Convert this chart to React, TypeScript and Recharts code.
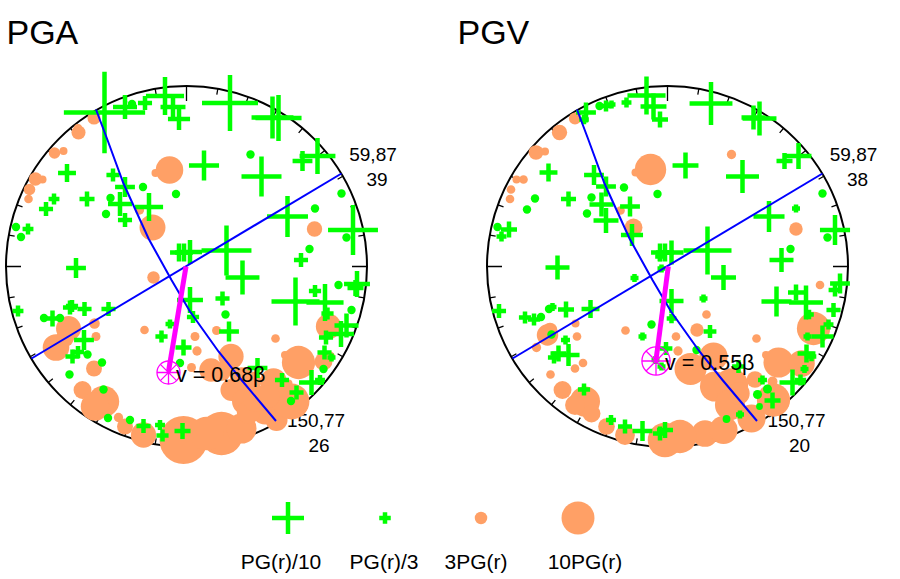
import React from "react";
import { ScatterChart, Scatter, XAxis, YAxis } from "recharts";

// stereonet coordinates: origin at the net centre, 1 unit = 1px, net radius 180.5
// rows are [x, y, m], m = size of the log10 residual

const pgaDeficit = [
  [-82, 154, 2.54], [-61.5, 159.5, 0.75], [-54.5, 162.5, 0.2], [-41.5, 163.5, 0.44], [-21.5, 170.5, 1.19],
  [-13.5, 159.5, 0.78], [-7.5, 147.5, 0.69], [-119.5, 93.5, 0.56], [-73.5, 91.5, 0.41], [-61.5, 79.5, 0.62],
  [-43.5, 79.5, 0.2], [-10.5, 72.5, 0.2], [-76, 68.5, 0.2], [-132.5, 67.5, 0.34], [-99.5, 67.5, 0.47],
  [-140.5, 57.5, 0.44], [-66.5, 62.5, 0.75], [-37.5, 59.5, 0.88], [-80.5, 52.5, 0.2], [-61.5, 46.5, 0.44],
  [-170.5, 39.5, 0.2], [-158.5, 37.5, 0.34], [-165.5, 29.5, 0.2], [-110.5, -1.5, 0.62], [43.5, 163.5, 1.75],
  [86, 149, 1.31], [92, 148.5, 1.44], [131, 110.5, 1.12], [116, 105.5, 0.62], [17.5, 101, 0.94],
  [64, 112, 0.2], [75, 90, 1.25], [101, 50, 1.28], [128.5, 58, 0.2], [155, 73, 0.2],
  [166.5, 36.5, 1.56], [160, 29, 0.2], [123, 17.5, 0.2], [114.5, 6.5, 0.44], [40, 16, 1.56],
  [56, -11, 1.06], [-7.5, 14, 0.56], [-2.5, 14, 0.56], [3.5, 14.5, 0.75], [-168.5, -44.5, 0.34],
  [-78, -42.5, 0.44], [-102, -42.5, 0.44], [-116.5, -41, 0.44], [-114.5, -39.5, 0.38], [-134, -52, 0.5],
  [-142.5, -51.5, 0.2], [-126.5, -51.5, 0.2], [-102.5, -73.5, 0.62], [-114, -90, 0.44], [-108.5, -85.5, 0.38],
  [-99, -88, 0.2], [-117, -108, 0.2], [-84.5, -96, 0.2], [-83, -123, 0.2], [-78.5, -151.5, 0.2],
  [-56.5, -153.5, 0.2], [-43, -159.5, 0.44], [-24, -169, 0.38], [-26.5, -158.5, 0.31], [-4, -164.5, 0.5],
  [-16.5, -57.5, 0.28], [-25, -70, 0.38], [-3, -81, 0.5], [-6.5, -96.5, 0.2], [3.5, -33.5, 0.81],
  [6.5, -50.5, 0.38], [128.5, -24.5, 0.38], [109, -35, 1.5], [138.5, -36, 1.16], [170.5, -17.5, 0.81],
  [169, -21.5, 0.5], [152, -18.5, 0.2], [36, -32, 0.44], [39, -48, 0.2], [42.5, -65, 0.62],
  [165, -43.5, 0.2], [141, -47, 0.38], [160, -59, 0.75], [154.5, -67.5, 0.81], [139.5, -71, 0.44],
  [138, -86, 0.44], [145, -91, 0.25], [137, -102.5, 0.2], [125, -116, 0.78], [133.5, -113.5, 0.31],
  [95.5, -113.5, 0.44], [110, -126, 0.44], [104.5, -134.5, 0.2], [71, -101.5, 0.62],
];

const pgaExcess = [
  [-92.5, 148.5, 0.41], [-108, 134, 0.44], [-108.5, 138.5, 0.25], [-132, 113.5, 0.36], [-123, 115.5, 0.25],
  [-151, 87.5, 0.42], [-144, 87, 0.25], [-157, 77, 0.36], [-158, 67.5, 0.27], [-17, 96.5, 0.86],
  [-31, 93.5, 0.25], [-34, 39, 0.81], [-47, 56.5, 0.29], [128, 37.5, 0.48], [-33, -11, 0.39],
  [-42, -63.5, 0.27], [-92, -57, 0.33], [-90.5, -70, 0.28], [-118, -62, 0.78], [-130.5, -81, 0.83],
  [-121.5, -71.5, 0.56], [-92.5, -102, 0.5], [-104, -123.5, 0.56], [-83, -135, 0.98], [-91.5, -140, 0.89],
  [-68, -151, 0.29], [-61.5, -160, 0.5], [-43, -168.5, 0.79], [-3, -173.5, 1.5], [35, -167, 1.36],
  [55, -162, 0.94], [8.5, -70, 0.28], [30, -64, 0.28], [10.5, -84.5, 0.29], [5, -101, 0.28],
  [44.5, -90, 0.79], [24.5, -103.5, 0.73], [89, -72, 0.27], [112, -96, 1.04], [98.5, -88.5, 0.25],
  [87, -115, 0.83], [45, -123.5, 0.69], [65, -115, 0.62], [58.5, -135, 0.81], [78.5, -145, 0.81],
  [90, -153.5, 0.69], [105, -135, 1.12], [142, -60, 0.79], [137, -95, 0.56], [143.5, -90, 0.31],
  [102, -117, 0.25], [62, -145.5, 0.73], [35, -105, 0.6], [55, -112, 0.7], [20, -167, 1.05],
  [70, -132, 0.85], [82, -130, 0.7],
];

const pgvDeficit = [
  [-81.5, 154, 0.62], [-83.5, 147, 0.3], [-61.5, 160.5, 0.34], [-68, 160.5, 0.2], [-56, 162, 0.25],
  [-41, 164, 0.31], [-21, 171, 1.19], [-14, 160, 0.81], [-7.5, 147, 0.5], [-119, 94, 0.56],
  [-73.5, 91.5, 0.62], [-61.5, 80, 0.62], [-43.5, 79, 0.2], [-10, 72.5, 0.2], [-76, 69, 0.2],
  [-132.5, 68, 0.2], [-99, 67.5, 0.47], [-140.5, 57, 0.2], [-66, 62, 0.75], [-37.5, 60, 0.62],
  [-80.5, 53, 0.2], [-61.5, 46, 0.78], [-170, 39.5, 0.2], [-158.5, 37, 0.5], [-166, 30, 0.31],
  [-35.5, 31.5, 0.69], [-110, -1, 0.75], [43.5, 163, 1.34], [86, 149, 0.75], [92, 148, 1.06],
  [131, 110.5, 0.81], [117, 105.5, 0.5], [18, 101, 0.81], [75, 90, 1.03], [101.5, 50, 0.97],
  [128.5, 58, 0.25], [155, 73, 0.2], [167.5, 36.5, 0.94], [160, 29, 0.2], [123, 17.5, 0.2],
  [114, 6.5, 0.75], [40, 16, 1.5], [-7.5, 14, 0.56], [-2.5, 14, 0.56], [4, 14, 0.75],
  [-168.5, -44.5, 0.44], [-101.5, -43, 0.5], [-77, -42.5, 0.56], [-115, -40.5, 0.25], [-118.5, -42.5, 0.2],
  [-142.5, -51, 0.38], [-133.5, -53, 0.38], [-126.5, -50.5, 0.2], [-116, -68, 0.2], [-33, -11.5, 0.25],
  [-16, -58, 0.2], [-25, -70, 0.25], [-6, -2, 0.25], [-7.5, 10, 0.3], [4, -34.5, 0.75],
  [-102, -73.5, 0.28], [-99, -88.5, 0.69], [-109, -87, 0.5], [-113.5, -91, 0.38], [-83.5, -123, 0.38],
  [-56.5, -153.5, 0.31], [-42.5, -160, 0.44], [-25, -164.5, 0.62], [-7.5, -167, 0.44], [-2.5, -163.5, 0.5],
  [-1.5, -82, 0.4], [-6, -100, 0.25], [-12, -93.5, 0.25], [56, -11, 0.78], [109, -35, 0.94],
  [128.5, -26, 0.5], [138.5, -36, 1.06], [172.5, -17, 0.62], [167.5, -23.5, 0.4], [166, -43.5, 0.44],
  [36, -32, 0.25], [141.5, -48, 0.3], [42.5, -65, 0.4], [161, -58, 0.31], [155, -70, 0.69],
  [140, -70, 0.25], [139, -87, 0.56], [144, -90, 0.3], [137, -102.5, 0.25], [125, -116, 0.81],
  [133, -113.5, 0.35], [95, -113.5, 0.28], [105, -134, 0.5], [100, -122.5, 0.22], [90, -128, 0.22],
  [92, -140, 0.15], [72.5, -148, 0.25], [59, -152.5, 0.18], [71, -100, 0.4], [29, -83.5, 0.2],
  [4, -52, 0.3],
];

const pgvExcess = [
  [64, 112, 0.29], [128.5, 37.5, 0.42], [-92, -57, 0.25], [-90.5, -70, 0.27], [-42, -64, 0.27],
  [-117.5, -63.5, 0.46], [-120, -68.5, 0.67], [-131, -81, 0.29], [-84.5, -96.5, 0.27], [-92.5, -102, 0.27],
  [-117, -108, 0.27], [-105, -123.5, 0.56], [-82.5, -135, 0.94], [-92.5, -138.5, 0.62], [-76, -147, 0.56],
  [-61, -160, 0.52], [-42.5, -168.5, 0.62], [-2.5, -173.5, 1.08], [-92.5, 148, 0.38], [-108, 134, 0.48],
  [-131.5, 114, 0.46], [-122.5, 115, 0.25], [-151, 87, 0.25], [-144, 87, 0.27], [-156.5, 77, 0.27],
  [-157.5, 67.5, 0.27], [-17, 97, 0.98], [-32, 94, 0.25], [-34, 39, 0.56], [-47, 56, 0.27],
  [152.5, -18.5, 0.27], [39, -48, 0.27], [29.5, -63.5, 0.42], [8.5, -70, 0.27], [10.5, -84.5, 0.29],
  [23, -102.5, 1], [46, -90, 0.88], [89, -72, 0.27], [111, -96, 0.94], [98.5, -88.5, 0.25],
  [87.5, -113, 0.52], [105, -115, 0.31], [47.5, -120, 0.94], [64, -118.5, 1.04], [62.5, -138.5, 0.94],
  [71, -127, 0.7], [84, -152, 0.88], [106, -133.5, 1.04], [37.5, -167, 0.83], [56, -163.5, 0.88],
  [12.5, -170, 1.04], [146, -62, 1.04], [134, -97, 0.83], [142.5, -92, 0.31],
];

const strikeLine = [[-155, -92], [155, 93]];
const auxCurve = [
  [-90.5, 157], [-79, 126.5], [-63, 83], [-38, 28], [-15, -13.5], [3.5, -45], [32, -85], [55, -113.5], [89.5, -154.5],
];
const pgaSlip = [[-0.5, 0], [-18, -105]];
const pgvSlip = [[0.8, 0], [-11.5, -93.5]];
const pgaDirectivity = [[-18, -106, 0.72]];
const pgvDirectivity = [[-11.5, -94.5, 0.88]];

const pgaLabels = [
  ["PGA", -180, 234.5, "title"],
  ["59,87", 186.5, 112.5, "mid"],
  ["39", 190.5, 87.5, "mid"],
  ["150,77", 129.5, -153.5, "mid"],
  ["26", 132.5, -178.5, "mid"],
];
const pgvLabels = [
  ["PGV", -210, 234.5, "title"],
  ["59,87", 186, 112.5, "mid"],
  ["38", 190, 87.5, "mid"],
  ["150,77", 129, -153.5, "mid"],
  ["20", 132, -178.5, "mid"],
];
const pgaRatio = [["v = 0.68β", -10.5, -108.5, "ratio"]];
const pgvRatio = [["v = 0.55β", -2.5, -96.5, "ratio"]];

const legendLabels = ["PG(r)/10", "PG(r)/3", "3PG(r)", "10PG(r)"];
const legendLabelX = [281, 384, 476, 585];
const legendX = [288, 385, 481, 578];
const legendValues = [1, 0.36, 0.39, 1.03];

const UNIT = 16;
const NET_R = 180.5;
const GREEN = "#00ff00";
const ORANGE = "#ffa066";
const BLUE = "#0000ff";
const MAGENTA = "#ff00ff";
const FONT = "'Liberation Sans', Arial, sans-serif";

const toPoints = (rows: number[][]) => rows.map(([x, y, m]) => ({ x, y, m }));
const toLabels = (rows: any[]) =>
  rows.map(([text, x, y, kind]) => ({ text, x, y, kind }));

const Cross = ({ cx, cy, payload }: any) => {
  const arm = payload.m * UNIT;
  if (arm < 4) return <circle cx={cx} cy={cy} r={Math.max(arm + 1, 3)} fill={GREEN} />;
  return (
    <path
      d={`M${cx - arm} ${cy}H${cx + arm}M${cx} ${cy - arm}V${cy + arm}`}
      stroke={GREEN}
      strokeWidth={4.5}
      fill="none"
    />
  );
};

const Blob = ({ cx, cy, payload }: any) => (
  <circle cx={cx} cy={cy} r={payload.m * UNIT} fill={ORANGE} />
);

const Directivity = ({ cx, cy, payload }: any) => {
  const r = payload.m * UNIT;
  const spokes = [0, 45, 90, 135].map((deg) => {
    const a = (deg * Math.PI) / 180;
    return `M${cx - r * Math.cos(a)} ${cy - r * Math.sin(a)}L${cx + r * Math.cos(a)} ${cy + r * Math.sin(a)}`;
  });
  return (
    <g stroke={MAGENTA} strokeWidth={1.3} fill="none">
      <circle cx={cx} cy={cy} r={r} />
      <path d={spokes.join("")} />
    </g>
  );
};

const NetFrame = ({ cx, cy }: any) => {
  const ticks = [];
  for (let deg = 0; deg < 360; deg += 10) {
    const a = (deg * Math.PI) / 180;
    const len = deg % 90 === 0 ? 15 : 6;
    ticks.push(
      `M${cx + NET_R * Math.sin(a)} ${cy - NET_R * Math.cos(a)}L${cx + (NET_R - len) * Math.sin(a)} ${cy - (NET_R - len) * Math.cos(a)}`
    );
  }
  return (
    <g fill="none" stroke="#000">
      <circle cx={cx} cy={cy} r={NET_R} strokeWidth={2} />
      <path d={ticks.join("")} strokeWidth={1.3} />
    </g>
  );
};

const LABEL_SIZE: any = { title: 34, mid: 19, ratio: 21.5 };

const Label = ({ cx, cy, payload }: any) => (
  <text
    x={cx}
    y={cy}
    fontFamily={FONT}
    fontSize={LABEL_SIZE[payload.kind]}
    fill="#000"
    textAnchor={payload.kind === "mid" ? "middle" : "start"}
    dominantBaseline="central"
  >
    {payload.text}
  </text>
);

const Empty = () => null;

const Net = ({ left, xDomain, deficit, excess, slip, directivity, labels, ratio }: any) => (
  <div style={{ position: "absolute", left, top: 0 }}>
    <ScatterChart width={450} height={579} margin={{ top: 0, right: 0, bottom: 0, left: 0 }}>
      <XAxis type="number" dataKey="x" domain={xDomain} hide />
      <YAxis type="number" dataKey="y" domain={[-312.5, 266.5]} hide />
      <Scatter data={[{ x: 0, y: 0 }]} shape={NetFrame} isAnimationActive={false} />
      <Scatter data={toLabels(labels)} shape={Label} isAnimationActive={false} />
      <Scatter data={toPoints(excess)} shape={Blob} isAnimationActive={false} />
      <Scatter data={toPoints(deficit)} shape={Cross} isAnimationActive={false} />
      <Scatter
        data={toPoints(strikeLine)}
        shape={Empty}
        line={{ stroke: BLUE, strokeWidth: 2 }}
        isAnimationActive={false}
      />
      <Scatter
        data={toPoints(auxCurve)}
        shape={Empty}
        line={{ stroke: BLUE, strokeWidth: 2 }}
        isAnimationActive={false}
      />
      <Scatter
        data={toPoints(slip)}
        shape={Empty}
        line={{ stroke: MAGENTA, strokeWidth: 5 }}
        isAnimationActive={false}
      />
      <Scatter data={toPoints(directivity)} shape={Directivity} isAnimationActive={false} />
      <Scatter data={toLabels(ratio)} shape={Label} isAnimationActive={false} />
    </ScatterChart>
  </div>
);

const legendCrosses = [0, 1].map((i) => ({ x: legendX[i], y: 61, m: legendValues[i] }));
const legendBlobs = [2, 3].map((i) => ({ x: legendX[i], y: 61, m: legendValues[i] }));
const legendTexts = legendLabels.map((text, i) => ({ text, x: legendLabelX[i], y: 18, kind: "legend" }));

const LegendText = ({ cx, cy, payload }: any) => (
  <text
    x={cx}
    y={cy}
    fontFamily={FONT}
    fontSize={21}
    fill="#000"
    textAnchor="middle"
    dominantBaseline="central"
  >
    {payload.text}
  </text>
);

export default function App() {
  return (
    <div style={{ position: "absolute", left: 0, top: 0, width: 900, height: 579, background: "#fff" }}>
      <Net
        left={0}
        xDomain={[-186.5, 263.5]}
        deficit={pgaDeficit}
        excess={pgaExcess}
        slip={pgaSlip}
        directivity={pgaDirectivity}
        labels={pgaLabels}
        ratio={pgaRatio}
      />
      <Net
        left={450}
        xDomain={[-217.5, 232.5]}
        deficit={pgvDeficit}
        excess={pgvExcess}
        slip={pgvSlip}
        directivity={pgvDirectivity}
        labels={pgvLabels}
        ratio={pgvRatio}
      />
      <div style={{ position: "absolute", left: 0, top: 477 }}>
        <ScatterChart width={900} height={102} margin={{ top: 0, right: 0, bottom: 0, left: 0 }}>
          <XAxis type="number" dataKey="x" domain={[0, 900]} hide />
          <YAxis type="number" dataKey="y" domain={[0, 102]} hide />
          <Scatter data={legendCrosses} shape={Cross} isAnimationActive={false} />
          <Scatter data={legendBlobs} shape={Blob} isAnimationActive={false} />
          <Scatter data={legendTexts} shape={LegendText} isAnimationActive={false} />
        </ScatterChart>
      </div>
    </div>
  );
}
